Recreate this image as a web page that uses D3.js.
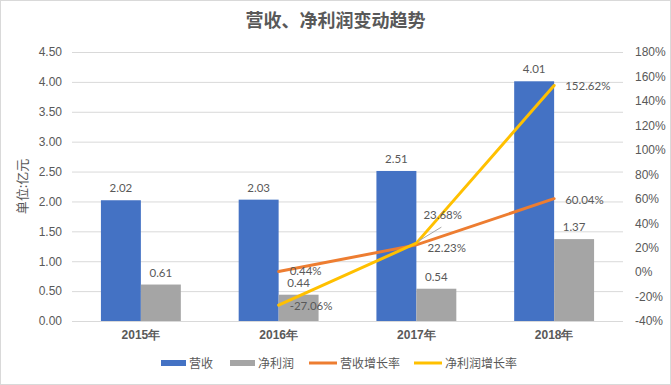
<!DOCTYPE html>
<html>
<head>
<meta charset="utf-8">
<script src="https://cdn.jsdelivr.net/npm/d3@7"></script>
<style>
  body { margin: 0; background: #fff; }
  svg { font-family: Lato, "Noto Sans CJK SC", sans-serif; }
</style>
</head>
<body>
<svg id="chart" width="671" height="385"></svg>
<script>
// data
var years = ['2015年', '2016年', '2017年', '2018年'];
var revenue = [2.02, 2.03, 2.51, 4.01];
var profit = [0.61, 0.44, 0.54, 1.37];
var revGrowth = [null, 0.44, 22.23, 60.04];
var profitGrowth = [null, -27.06, 23.68, 152.62];
var leftTicks = [0, 0.5, 1, 1.5, 2, 2.5, 3, 3.5, 4, 4.5];
var rightTicks = [-40, -20, 0, 20, 40, 60, 80, 100, 120, 140, 160, 180];

var W = 671, H = 385;
var margin = { left: 72, right: 48, top: 52, bottom: 64 };
var svg = d3.select('#chart');
var text = '#595959', grid = '#d9d9d9';

svg.append('rect').attr('x', 0.5).attr('y', 0.5)
    .attr('width', W - 1).attr('height', H - 1)
    .attr('fill', '#fff').attr('stroke', '#d9d9d9');

var x0 = d3.scaleBand().domain(years)
    .range([margin.left, W - margin.right])
    .paddingInner(0.42).paddingOuter(0.21);
var x1 = d3.scaleBand().domain(['rev', 'pro'])
    .range([0, x0.bandwidth()]);
var yL = d3.scaleLinear().domain([0, 4.5]).range([H - margin.bottom, margin.top]);
var yR = d3.scaleLinear().domain([-40, 180]).range([H - margin.bottom, margin.top]);
var cx = function (d) { return x0(d) + x0.bandwidth() / 2; };

// title
svg.append('text').attr('x', W / 2).attr('y', 27)
    .attr('text-anchor', 'middle').attr('fill', text)
    .attr('font-size', 18).attr('font-weight', 'bold')
    .text('营收、净利润变动趋势');

// gridlines + left axis
var axL = d3.axisLeft(yL).tickValues(leftTicks)
    .tickFormat(d3.format('.2f')).tickSize(0).tickPadding(10);
var gL = svg.append('g').attr('transform', 'translate(' + margin.left + ',0)').call(axL);
gL.select('.domain').remove();
gL.selectAll('text').attr('fill', text).attr('font-size', 12);
gL.selectAll('.tick').append('line')
    .attr('x1', 0).attr('x2', W - margin.right - margin.left)
    .attr('stroke', grid);

var axR = d3.axisRight(yR).tickValues(rightTicks)
    .tickFormat(function (d) { return d + '%'; }).tickSize(0).tickPadding(12);
var gR = svg.append('g').attr('transform', 'translate(' + (W - margin.right) + ',0)').call(axR);
gR.select('.domain').remove();
gR.selectAll('text').attr('fill', text).attr('font-size', 12);

// y title
svg.append('text')
    .attr('transform', 'translate(27,' + ((margin.top + H - margin.bottom) / 2) + ') rotate(-90)')
    .attr('text-anchor', 'middle').attr('fill', text).attr('font-size', 13)
    .text('单位:亿元');

// x labels
var axX = d3.axisBottom(x0).tickSize(0).tickPadding(9);
var gX = svg.append('g').attr('transform', 'translate(0,' + (H - margin.bottom) + ')').call(axX);
gX.select('.domain').remove();
gX.selectAll('text').attr('fill', text).attr('font-size', 12).attr('font-weight', 'bold');

// bars
var series = [
  { key: 'rev', vals: revenue, color: '#4472C4' },
  { key: 'pro', vals: profit, color: '#A5A5A5' }
];
series.forEach(function (s) {
  var g = svg.append('g');
  g.selectAll('rect').data(years).enter().append('rect')
    .attr('x', function (d) { return x0(d) + x1(s.key); })
    .attr('width', x1.bandwidth())
    .attr('y', function (d, i) { return yL(s.vals[i]); })
    .attr('height', function (d, i) { return yL(0) - yL(s.vals[i]); })
    .attr('fill', s.color);
  g.selectAll('text').data(years).enter().append('text')
    .attr('x', function (d) { return x0(d) + x1(s.key) + x1.bandwidth() / 2; })
    .attr('y', function (d, i) { return yL(s.vals[i]) - 8; })
    .attr('text-anchor', 'middle').attr('fill', text).attr('font-size', 11.5)
    .text(function (d, i) { return s.vals[i].toFixed(2); });
});

// lines
var lines = [
  { vals: revGrowth, color: '#ED7D31', dy: [0, 3, 7, 5] },
  { vals: profitGrowth, color: '#FFC000', dy: [0, 5, -24, 5] }
];
lines.forEach(function (s) {
  var pts = years.map(function (d, i) { return [cx(d), s.vals[i]]; })
    .filter(function (p) { return p[1] !== null; });
  svg.append('path').datum(pts)
    .attr('d', d3.line().x(function (p) { return p[0]; }).y(function (p) { return yR(p[1]); }))
    .attr('fill', 'none').attr('stroke', s.color).attr('stroke-width', 3)
    .attr('stroke-linecap', 'round');
});

// leader line for 23.68%
svg.append('line')
  .attr('x1', cx(years[2]) + 2).attr('y1', yR(profitGrowth[2]) - 2)
  .attr('x2', cx(years[2]) + 25).attr('y2', yR(profitGrowth[2]) - 16)
  .attr('stroke', '#a6a6a6').attr('stroke-width', 1);

lines.forEach(function (s) {
  years.forEach(function (d, i) {
    if (s.vals[i] === null) return;
    svg.append('text')
      .attr('x', cx(d) + (i === 2 && s === lines[1] ? 7 : 11))
      .attr('y', yR(s.vals[i]) + s.dy[i])
      .attr('fill', text).attr('font-size', 11.5)
      .text(s.vals[i].toFixed(2) + '%');
  });
});

// legend
var legend = [
  { name: '营收', color: '#4472C4', type: 'bar', x: 161 },
  { name: '净利润', color: '#A5A5A5', type: 'bar', x: 230 },
  { name: '营收增长率', color: '#ED7D31', type: 'line', x: 309 },
  { name: '净利润增长率', color: '#FFC000', type: 'line', x: 414 }
];
var lg = svg.append('g').attr('transform', 'translate(0,363)');
legend.forEach(function (l) {
  if (l.type === 'bar') {
    lg.append('rect').attr('x', l.x).attr('y', -3).attr('width', 25).attr('height', 6).attr('fill', l.color);
  } else {
    lg.append('line').attr('x1', l.x).attr('x2', l.x + 28).attr('stroke', l.color).attr('stroke-width', 3);
  }
  lg.append('text').attr('x', l.x + (l.type === 'bar' ? 28 : 31)).attr('y', 4.5)
    .attr('fill', text).attr('font-size', 12).text(l.name);
});
</script>
</body>
</html>
